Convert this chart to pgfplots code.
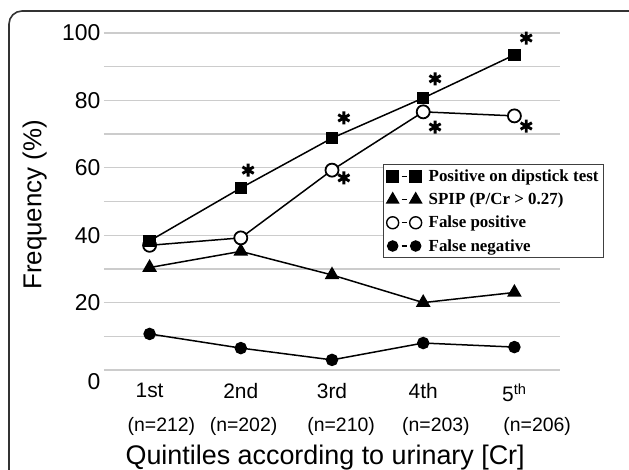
\documentclass[border=0pt]{standalone}
\usepackage{pgfplots}
\pgfplotsset{compat=1.18}
\usepackage{fontspec}
\setmainfont{Liberation Sans}
\newfontfamily\legfont{Liberation Serif}

\begin{document}
\begin{tikzpicture}[x=1bp,y=1bp]
\useasboundingbox (-104,-100) rectangle (525,370);
\draw[line width=1.6bp, black!80, rounded corners=13bp] (-95,359) rectangle (580,-150);
\begin{axis}[
  at={(0,0)}, anchor=south west,
  scale only axis, width=456bp, height=337bp,
  xmin=0.5, xmax=5.5, ymin=0, ymax=100,
  clip=false,
  axis line style={draw=none},
  tick style={draw=none},
  ymajorgrids, grid style={gray!40, line width=1.3bp},
  /pgf/number format/assume math mode=true,
  ytick={10,20,...,100}, yticklabels={,20,,40,,60,,80,,100},
  yticklabel style={font=\fontsize{23}{27}\selectfont},
  extra y ticks={0}, extra y tick labels={0},
  extra y tick style={yticklabel style={yshift=-12bp}},
  xtick={1,2,3,4,5},
  xticklabels={1st,2nd,3rd,4th,5\textsuperscript{th}},
  xticklabel style={font=\fontsize{21}{25}\selectfont, yshift=-10bp},
  extra x ticks={1.13,2.03,3.10,4.14,5.25},
  extra x tick labels={(n=212),(n=202),(n=210),(n=203),(n=206)},
  extra x tick style={grid=none, xticklabel style={font=\fontsize{19.5}{23}\selectfont, yshift=-34bp}},
  xlabel={Quintiles according to urinary [Cr]},
  xlabel style={at={(axis description cs:0.485,0)}, anchor=north, yshift=-71bp, font=\fontsize{27}{31}\selectfont},
  ylabel={Frequency (\%)},
  ylabel style={at={(axis description cs:-0.118,0.49)}, anchor=south, rotate=0, font=\fontsize{26}{30}\selectfont},
  legend style={at={(0.612,0.611)}, anchor=north west, draw=black!75, line width=1.2bp,
    font=\legfont\bfseries\fontsize{17}{20}\selectfont, cells={anchor=west},
    row sep=6bp, inner xsep=3bp, inner ysep=3bp,
    /tikz/every odd column/.append style={column sep=5bp}},
  legend image code/.code={
    \draw[#1,mark=none,line width=1.2bp] (9bp,0) -- (14bp,0);
    \draw[#1,only marks] plot coordinates {(0,0) (23bp,0)};
  },
]
% triangles: SPIP
\addplot[black, line width=1.5bp, mark=triangle*, mark size=7bp, forget plot]
  coordinates {(1,30.4) (2,35.2) (3,28.2) (4,20.0) (5,23.0)};
% filled circles: false negative
\addplot[black, line width=1.5bp, mark=*, mark size=5.5bp, forget plot]
  coordinates {(1,10.7) (2,6.5) (3,3.0) (4,8.0) (5,6.8)};
% open circles: false positive
\addplot[black, line width=1.5bp, mark=*, mark size=6.5bp, mark options={fill=white, line width=1.8bp}, forget plot]
  coordinates {(1,37.0) (2,39.2) (3,59.3) (4,76.6) (5,75.4)};
% squares: positive on dipstick
\addplot[black, line width=1.5bp, mark=square*, mark size=5.5bp, forget plot]
  coordinates {(1,38.3) (2,54.0) (3,68.8) (4,80.7) (5,93.5)};
% asterisks
\addplot[black, only marks, mark=asterisk, mark size=6.5bp, mark options={line width=2.9bp}, forget plot]
  coordinates {(2.08,59.3) (3.13,74.8) (3.13,57.0) (4.13,86.4) (4.13,72.1) (5.13,98.5) (5.13,72.4)};

\addlegendimage{black, line width=1.5bp, mark=square*, mark size=5.5bp}
\addlegendentry{Positive on dipstick test}
\addlegendimage{black, line width=1.5bp, mark=triangle*, mark size=6.5bp}
\addlegendentry{SPIP (P/Cr > 0.27)}
\addlegendimage{black, line width=1.5bp, mark=*, mark size=6bp, mark options={fill=white, line width=1.4bp}}
\addlegendentry{False positive}
\addlegendimage{black, line width=1.5bp, mark=*, mark size=5bp}
\addlegendentry{False negative}
\end{axis}
\end{tikzpicture}
\end{document}
